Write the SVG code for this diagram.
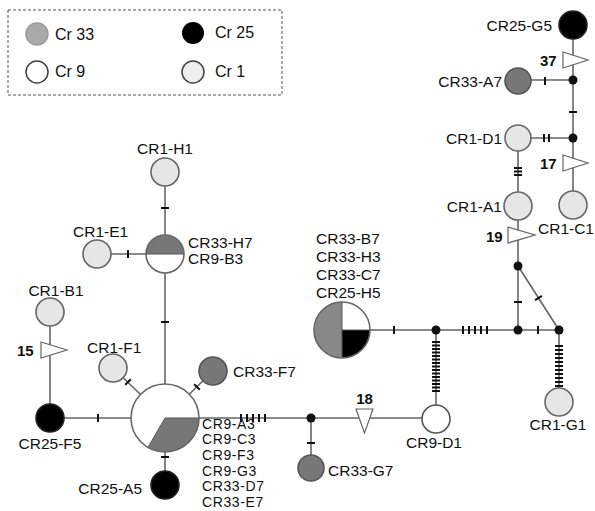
<svg xmlns="http://www.w3.org/2000/svg" width="595" height="511" viewBox="0 0 595 511">
<style>
text{font-family:"Liberation Sans",Arial,sans-serif;font-size:15.5px;fill:#111}
.lg{font-size:16px}
.st{font-size:14px;letter-spacing:0.6px}
.num{font-weight:bold;font-size:15px}
.e{stroke:#666;stroke-width:1.6;fill:none}
.t{stroke:#111;stroke-width:2;fill:none}
.tri{fill:#fff;stroke:#666;stroke-width:1.2}
.dot{fill:#111}
.c1{fill:#e6e6e6;stroke:#666;stroke-width:1.6}
.c9{fill:#fff;stroke:#555;stroke-width:1.6}
.c33{fill:#777;stroke:#555;stroke-width:1.6}
.c25{fill:#000;stroke:#222;stroke-width:1.6}
.ol{fill:none;stroke:#666;stroke-width:1.6}
</style>
<g id="legend">
<rect x="8" y="10" width="274" height="85" fill="none" stroke="#555" stroke-width="1" stroke-dasharray="3,2"/>
<circle cx="37" cy="34" r="11" fill="#aaa" stroke="#999" stroke-width="1.5"/>
<text class="lg" x="55" y="40">Cr 33</text>
<circle cx="193" cy="33" r="11" fill="#000"/>
<text class="lg" x="215" y="38">Cr 25</text>
<circle cx="37" cy="72" r="11" fill="#fff" stroke="#444" stroke-width="1.5"/>
<text class="lg" x="55" y="77">Cr 9</text>
<circle cx="193" cy="72" r="11" fill="#eee" stroke="#444" stroke-width="1.5"/>
<text class="lg" x="215" y="77">Cr 1</text>
</g>
<g id="connectors">
<path class="e" d="M50,418H131 M50,312V418 M113,368L165,418 M213,371L165,418 M165,418V172 M97,254H165 M165,418V485 M199,418H436 M311,418V468 M342,330H559 M436,330V419 M518,330V138 M559,330L518,266 M559,330V402 M518,138H573 M573,205V25 M573,80H518"/>
<path class="t" d="M98,414V422 M125.2,384.8L130.8,379.2 M194.2,384.2L199.8,389.8 M161,322H169 M161,208H169 M128,250V258 M161,457H169 M241,414V422 M247,414V422 M253,414V422 M259,414V422 M265,414V422 M307,443H315 M394,326V334 M463,326V334 M469,326V334 M475,326V334 M481,326V334 M487,326V334 M538,326V334 M514,302H522 M535.1,300.2L541.9,295.8 M514,168H522 M514,171.5H522 M514,175H522 M544,134V142 M549,134V142 M569,112H577 M545,77V85"/>
<path class="t" stroke-width="1.6" d="M432,342H440 M432,345.5H440 M432,349H440 M432,352.5H440 M432,356H440 M432,359.5H440 M432,363H440 M432,366.5H440 M432,370H440 M432,373.5H440 M432,377H440 M432,380.5H440 M432,384H440 M432,387.5H440 M432,391H440 M555,346H563 M555,350H563 M555,354H563 M555,358H563 M555,362H563 M555,366H563 M555,370H563 M555,374H563 M555,378H563 M555,382H563 M555,386H563"/>
<circle class="dot" cx="311" cy="418" r="4.5"/>
<circle class="dot" cx="436" cy="330" r="4.5"/>
<circle class="dot" cx="518" cy="330" r="4.5"/>
<circle class="dot" cx="559" cy="330" r="4.5"/>
<circle class="dot" cx="518" cy="266" r="4.5"/>
<circle class="dot" cx="573" cy="138" r="4.5"/>
<circle class="dot" cx="573" cy="80" r="4.5"/>
<polygon class="tri" points="41,342 67,350 41,358"/>
<polygon class="tri" points="356,409 373,409 364.5,433"/>
<polygon class="tri" points="508,227 535,235 508,243"/>
<polygon class="tri" points="563,155 588,163 563,171"/>
<polygon class="tri" points="563,52 588,60 563,68"/>
<text class="num" x="17" y="356">15</text>
<text class="num" x="364.5" y="404" text-anchor="middle">18</text>
<text class="num" x="486" y="242">19</text>
<text class="num" x="540" y="169">17</text>
<text class="num" x="540" y="66">37</text>
</g>
<g id="CR9-A3">
<circle cx="165" cy="418" r="34" fill="#fff"/>
<path d="M165,418L199,418A34,34 0 0 1 148,447.4Z" fill="#777"/>
<path d="M165,418L199,418M165,418L148,447.4" stroke="#555" stroke-width="1"/>
<circle class="ol" cx="165" cy="418" r="34"/>
<text class="st" x="202" y="428.5">CR9-A3</text>
<text class="st" x="202" y="444.2">CR9-C3</text>
<text class="st" x="202" y="459.9">CR9-F3</text>
<text class="st" x="202" y="475.6">CR9-G3</text>
<text class="st" x="202" y="491.3">CR33-D7</text>
<text class="st" x="202" y="507">CR33-E7</text>
</g>
<g id="CR25-F5"><circle class="c25" cx="50" cy="418" r="14"/><text x="50" y="449" text-anchor="middle">CR25-F5</text></g>
<g id="CR1-B1"><circle class="c1" cx="50" cy="312" r="14"/><text x="56" y="296" text-anchor="middle">CR1-B1</text></g>
<g id="CR1-F1"><circle class="c1" cx="113" cy="368" r="14"/><text x="87" y="353">CR1-F1</text></g>
<g id="CR33-F7"><circle class="c33" cx="213" cy="371" r="14"/><text x="233" y="377">CR33-F7</text></g>
<g id="CR25-A5"><circle class="c25" cx="165" cy="485" r="14"/><text x="142" y="494" text-anchor="end">CR25-A5</text></g>
<g id="CR33-H7">
<circle cx="165" cy="254" r="19" fill="#fff"/>
<path d="M146,254A19,19 0 0 1 184,254Z" fill="#777"/>
<path d="M146,254H184" stroke="#555" stroke-width="1"/>
<circle class="ol" cx="165" cy="254" r="19"/>
<text x="188" y="248">CR33-H7</text>
<text x="188" y="264">CR9-B3</text>
</g>
<g id="CR1-E1"><circle class="c1" cx="97" cy="254" r="14"/><text x="73" y="237">CR1-E1</text></g>
<g id="CR1-H1"><circle class="c1" cx="165" cy="172" r="14"/><text x="165" y="154" text-anchor="middle">CR1-H1</text></g>
<g id="CR33-G7"><circle class="c33" cx="311" cy="468" r="13"/><text x="328" y="476">CR33-G7</text></g>
<g id="CR9-D1"><circle class="c9" cx="436" cy="419" r="14"/><text x="434" y="448" text-anchor="middle">CR9-D1</text></g>
<g id="CR33-B7">
<circle cx="342" cy="330" r="28" fill="#fff"/>
<path d="M342,302A28,28 0 0 0 342,358Z" fill="#888"/>
<path d="M342,330L370,330A28,28 0 0 1 342,358Z" fill="#000"/>
<path d="M342,302V358M342,330H370" stroke="#555" stroke-width="1"/>
<circle class="ol" cx="342" cy="330" r="28"/>
<text x="316" y="244">CR33-B7</text>
<text x="316" y="262">CR33-H3</text>
<text x="316" y="280">CR33-C7</text>
<text x="316" y="298">CR25-H5</text>
</g>
<g id="CR1-G1"><circle class="c1" cx="559" cy="402" r="14"/><text x="558" y="430" text-anchor="middle">CR1-G1</text></g>
<g id="CR1-A1"><circle class="c1" cx="518" cy="206" r="14"/><text x="502" y="212" text-anchor="end">CR1-A1</text></g>
<g id="CR1-C1"><circle class="c1" cx="573" cy="205" r="14"/><text x="538" y="234">CR1-C1</text></g>
<g id="CR1-D1"><circle class="c1" cx="518" cy="138" r="13"/><text x="502" y="144" text-anchor="end">CR1-D1</text></g>
<g id="CR33-A7"><circle class="c33" cx="518" cy="81" r="13"/><text x="502" y="87" text-anchor="end">CR33-A7</text></g>
<g id="CR25-G5"><circle class="c25" cx="573" cy="25" r="14"/><text x="552" y="31" text-anchor="end">CR25-G5</text></g>
</svg>
